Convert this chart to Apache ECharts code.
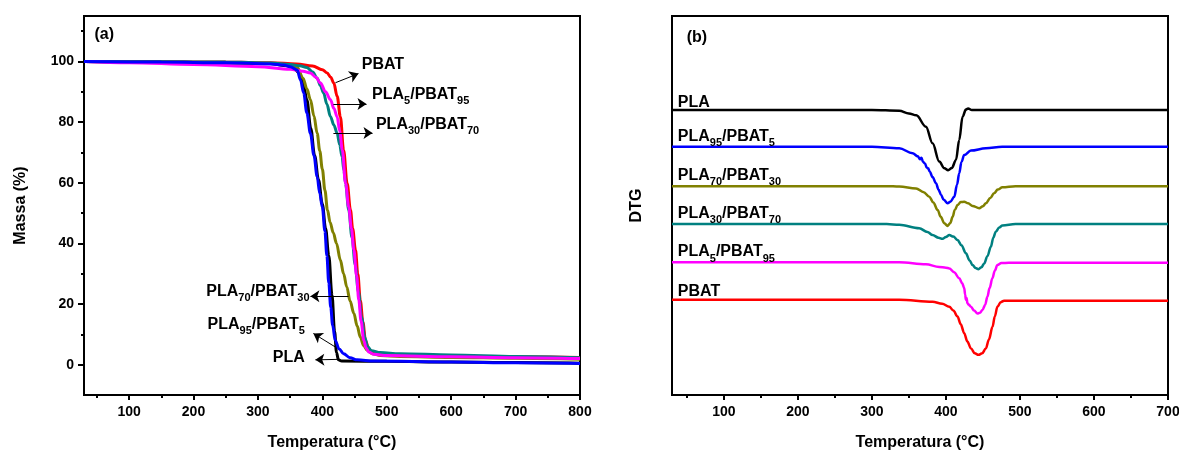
<!DOCTYPE html>
<html>
<head>
<meta charset="utf-8">
<script src="https://cdn.jsdelivr.net/npm/echarts@6/dist/echarts.min.js"></script>
<style>
  body { margin: 0; background: #fff; }
  #chart { width: 1179px; height: 450px; }
</style>
</head>
<body>
<div id="chart"></div>
<script>
// ---- data ----
// (a) TGA: [temperature °C, mass %]
var tgaPLA = [[30,100],[150,99.8],[250,99.6],[320,99.3],[345,98.6],[355,97.8],[363,96.5],[370,93],[376,87.4],[382,78],[388,69],[394,61],[400,53],[405,45],[410,36],[415,23],[419,11],[422,4],[425,1.6],[430,1.2],[500,1.1],[600,0.9],[700,0.7],[800,0.5]];
var tgaPLA95 = [[30,100],[150,99.8],[250,99.6],[320,99.2],[340,98.8],[350,98.3],[361,97.2],[366,94],[371,89.6],[376,83],[381.5,76.3],[387,69],[392,62],[396,56.5],[400,52],[404,44],[407,36],[410,27],[413,19],[416,13],[420,8],[426,5.2],[433,3.6],[443,2.3],[454,1.6],[480,1.2],[600,0.9],[700,0.6],[800,0.4]];
var tgaPLA70 = [[30,100],[150,99.8],[250,99.6],[320,99.3],[345,98.8],[361,98.0],[370,94.5],[376,91],[381.5,87.4],[387,82],[392,76.3],[396,70.5],[400,64.5],[404,57.5],[408,51],[412,47],[417,43.5],[422,40],[428,34.5],[433,30],[438,25.6],[443,21],[449,16.9],[454,12.8],[459,9.1],[464,6.3],[470,4.7],[478,3.6],[490,3.0],[520,2.7],[600,2.4],[700,2.1],[800,1.8]];
var tgaPLA30 = [[30,100],[150,99.9],[250,99.8],[320,99.5],[350,99.0],[365,98.6],[376,98.0],[385,96.5],[392,94.5],[397,92],[402,89.6],[407,86],[412.6,81.8],[418,79],[423,76.3],[427,72.5],[430.6,68.6],[433.5,64],[436,59.8],[441,51],[446,42],[451,33],[456,24],[461,15.5],[466,9],[470,6],[476,4.6],[490,4.0],[520,3.6],[600,3.2],[700,2.7],[800,2.3]];
var tgaPLA5 = [[30,100],[100,99.6],[200,99.0],[300,98.3],[350,97.4],[370,96.8],[381.5,96.2],[390,94.8],[397,92.9],[405,90],[412.6,87.4],[418,84.5],[423,81.8],[427,77],[431,70.8],[436,59.8],[441,52],[445,45],[449,37.8],[453,29.5],[456.7,21.2],[460,14.5],[464.4,8],[468,5.5],[472,4.2],[480,3.4],[500,3.0],[600,2.6],[700,2.3],[800,2.0]];
var tgaPBAT = [[30,100],[150,99.9],[250,99.8],[320,99.6],[360,99.2],[385,98.5],[400,97.3],[407.5,96.2],[413,94.8],[417.8,92.9],[423,88.5],[428,81.8],[433,70.8],[438.5,59.8],[443.7,51],[447,45],[451.5,37.8],[455,30],[459,21.2],[463,14],[467,8],[472,5.2],[479,3.9],[490,3.3],[550,3.0],[650,2.7],[800,2.4]];

// (b) DTG (offset, arbitrary units): [temperature °C, value]
var dtgPLA = [[30,75.2],[300,75.2],[337,75.0],[350,74.3],[360,73.8],[373,70.8],[382,66.4],[391,61.6],[398,59.8],[403,59.3],[408,59.9],[413.6,62.0],[418,67.3],[422.5,73.4],[427,75.3],[430,75.6],[435,75.2],[700,75.2]];
var dtgPLA95 = [[30,65.5],[300,65.5],[337,65.1],[355,63.8],[362,63.0],[365,62.2],[367,62.6],[369,61.5],[372,61.0],[374,60.0],[376,59.8],[378,59.0],[382,57.5],[386.6,55.9],[390,54.2],[393.4,52.8],[397,51.5],[402.3,50.6],[406,51],[411.3,52.3],[415,55.5],[418,58.5],[421,61.5],[424.7,63.3],[433.8,64.5],[454,65.1],[476,65.5],[700,65.5]];
var dtgPLA70 = [[30,55.1],[320,55.1],[337,55.0],[359.7,54.5],[370,53.5],[377.6,52.3],[383,50.8],[388.8,48.8],[393,47],[397.9,45.3],[402.3,44.6],[406,45.4],[409,47.0],[412,48.8],[415.7,50.1],[420,50.9],[424.7,51.0],[430,50.6],[436,49.9],[445,49.3],[450,49.8],[454,50.6],[460,52.0],[465,53.2],[470,54.2],[476.3,54.8],[494,55.1],[700,55.1]];
var dtgPLA30 = [[30,45.1],[320,45.1],[337,44.9],[364,44.0],[375,43.0],[382,42.2],[390,41.5],[395.5,41.2],[400,41.7],[404.6,42.2],[410,41.8],[415.7,40.9],[421,39.5],[427,37.4],[432,35.5],[436,34.3],[440,33.5],[444,33.2],[448,33.7],[451.7,34.7],[456,36.6],[460.7,39.1],[464,41.5],[467.4,43.1],[472,44.2],[476.3,44.7],[494,45.1],[700,45.1]];
var dtgPLA5 = [[30,35.0],[337,35.0],[373,34.5],[391,33.8],[400,33.6],[404.6,33.4],[411,32.4],[418,30.8],[422,29.5],[424.7,28.2],[426,26.5],[427,25.1],[428,25.6],[429,24.2],[431,23.8],[433.8,23.3],[438,22.3],[442.7,21.5],[446,21.7],[449.4,22.4],[453,23.8],[456,25.9],[459,28.2],[462.8,30.8],[466,32.8],[469.6,34.3],[475,34.8],[485,34.9],[700,34.9]];
var dtgPBAT = [[30,25.1],[337,25.1],[382,24.6],[395,24.1],[404.6,23.3],[410,22.3],[415.7,20.7],[420,18.7],[424.7,16.3],[429,14.1],[433.8,12.3],[439,11.0],[444,10.6],[449,11.0],[454,12.3],[458,14.6],[463,18.0],[466,20.7],[469.6,23.3],[474,24.5],[478.6,24.9],[700,24.9]];

// tick values
var ticksA = [100, 200, 300, 400, 500, 600, 700, 800];
var minorA = [50, 150, 250, 350, 450, 550, 650, 750];
var ticksB = [100, 200, 300, 400, 500, 600, 700];
var minorB = [50, 150, 250, 350, 450, 550, 650];
var massTicks = [0, 20, 40, 60, 80, 100];
var massMinor = [10, 30, 50, 70, 90, 110];

var FONT = '"Liberation Sans", Arial, Helvetica, sans-serif';
var rich = {
  b: { fontSize: 16, fontWeight: 'bold', fontFamily: FONT, color: '#000', lineHeight: 24, verticalAlign: 'middle' },
  s: { fontSize: 11, fontWeight: 'bold', fontFamily: FONT, color: '#000', lineHeight: 24, verticalAlign: 'bottom' }
};

function note(coord, text, align) {
  return {
    coord: coord,
    symbolSize: 1,
    itemStyle: { color: 'transparent' },
    label: { show: true, position: [0, 0], align: align || 'left', verticalAlign: 'middle', formatter: text, rich: rich }
  };
}
function arrow(from, to) {
  return [{ coord: from }, { coord: to }];
}

function majorX(grid, min, max, ticks) {
  return {
    type: 'value', gridIndex: grid, min: min, max: max, position: 'bottom',
    axisLine: { show: true, onZero: false, lineStyle: { color: '#000', width: 2 } },
    axisTick: { show: true, customValues: ticks, length: 5, lineStyle: { color: '#000', width: 2 } },
    axisLabel: { customValues: ticks, color: '#000', fontSize: 14, fontWeight: 'bold', fontFamily: FONT, margin: 10 },
    splitLine: { show: false },
    name: 'Temperatura (°C)', nameLocation: 'middle', nameGap: 40,
    nameTextStyle: { color: '#000', fontSize: 16, fontWeight: 'bold', fontFamily: FONT }
  };
}
function minorX(grid, min, max, ticks) {
  return {
    type: 'value', gridIndex: grid, min: min, max: max, position: 'bottom',
    axisLine: { show: false, onZero: false },
    axisTick: { show: true, customValues: ticks, length: 3, lineStyle: { color: '#000', width: 2 } },
    axisLabel: { show: false },
    splitLine: { show: false }
  };
}

function line(name, data, color, xi, yi, width) {
  return {
    name: name, type: 'line', data: data, xAxisIndex: xi, yAxisIndex: yi,
    showSymbol: false, smooth: 0.35, smoothMonotone: 'x',
    lineStyle: { color: color, width: width },
    itemStyle: { color: color }
  };
}

var chart = echarts.init(document.getElementById('chart'));

var notesA = {
  symbol: 'circle',
  data: [
    note([47, 108.8], '{b|(a)}'),
    note([462, 98.7], '{b|PBAT}'),
    note([478, 89.0], '{b|PLA}{s|5}{b|/PBAT}{s|95}'),
    note([484, 79.0], '{b|PLA}{s|30}{b|/PBAT}{s|70}'),
    note([381, 24.0], '{b|PLA}{s|70}{b|/PBAT}{s|30}', 'right'),
    note([373.5, 13.0], '{b|PLA}{s|95}{b|/PBAT}{s|5}', 'right'),
    note([373.5, 2.1], '{b|PLA}', 'right')
  ]
};
var arrowsA = {
  silent: true, symbol: ['none', 'arrow'], symbolSize: 9,
  lineStyle: { color: '#000', width: 1, type: 'solid' },
  label: { show: false },
  data: [
    arrow([420.4, 93.0], [456.1, 96.0]),
    arrow([417.2, 86.0], [468.6, 86.0]),
    arrow([417.2, 76.4], [477.9, 76.4]),
    arrow([440.6, 22.6], [381.5, 22.6]),
    arrow([420.4, 5.8], [386.1, 10.3]),
    arrow([425, 1.75], [389.2, 1.6])
  ]
};
var notesB = {
  symbol: 'circle',
  data: [
    note([50.6, 94.1], '{b|(b)}'),
    note([38.5, 77.0], '{b|PLA}'),
    note([38.5, 68.0], '{b|PLA}{s|95}{b|/PBAT}{s|5}'),
    note([38.5, 57.8], '{b|PLA}{s|70}{b|/PBAT}{s|30}'),
    note([38.5, 47.8], '{b|PLA}{s|30}{b|/PBAT}{s|70}'),
    note([38.5, 37.6], '{b|PLA}{s|5}{b|/PBAT}{s|95}'),
    note([38.5, 27.2], '{b|PBAT}')
  ]
};

var sA = [
  line('PLA', tgaPLA, '#000000', 0, 0, 3),
  line('PLA70/PBAT30', tgaPLA70, '#808000', 0, 0, 3),
  line('PBAT', tgaPBAT, '#ff0000', 0, 0, 3),
  line('PLA30/PBAT70', tgaPLA30, '#008080', 0, 0, 3),
  line('PLA5/PBAT95', tgaPLA5, '#ff00ff', 0, 0, 3),
  line('PLA95/PBAT5', tgaPLA95, '#0000ff', 0, 0, 3)
];
sA[5].markPoint = notesA;
sA[5].markLine = arrowsA;

var sB = [
  line('PLA', dtgPLA, '#000000', 2, 2, 2.5),
  line('PLA95/PBAT5', dtgPLA95, '#0000ff', 2, 2, 2.5),
  line('PLA70/PBAT30', dtgPLA70, '#808000', 2, 2, 2.5),
  line('PLA30/PBAT70', dtgPLA30, '#008080', 2, 2, 2.5),
  line('PLA5/PBAT95', dtgPLA5, '#ff00ff', 2, 2, 2.5),
  line('PBAT', dtgPBAT, '#ff0000', 2, 2, 2.5)
];
sB[5].markPoint = notesB;

var option = {
  animation: false,
  backgroundColor: '#fff',
  grid: [
    { left: 84, top: 16, width: 496, height: 379, show: true, borderColor: '#000', borderWidth: 2, outerBoundsMode: 'none' },
    { left: 672, top: 16, width: 496, height: 379, show: true, borderColor: '#000', borderWidth: 2, outerBoundsMode: 'none' }
  ],
  xAxis: [
    majorX(0, 30, 800, ticksA),
    minorX(0, 30, 800, minorA),
    majorX(1, 30, 700, ticksB),
    minorX(1, 30, 700, minorB)
  ],
  yAxis: [
    {
      type: 'value', gridIndex: 0, min: -10, max: 115, position: 'left',
      axisLine: { show: true, lineStyle: { color: '#000', width: 2 } },
      axisTick: { show: true, customValues: massTicks, length: 6, lineStyle: { color: '#000', width: 2 } },
      axisLabel: { customValues: massTicks, color: '#000', fontSize: 14, fontWeight: 'bold', fontFamily: FONT, margin: 10 },
      splitLine: { show: false },
      name: 'Massa (%)', nameLocation: 'middle', nameGap: 55,
      nameTextStyle: { color: '#000', fontSize: 16, fontWeight: 'bold', fontFamily: FONT }
    },
    {
      type: 'value', gridIndex: 0, min: -10, max: 115, position: 'left',
      axisLine: { show: false },
      axisTick: { show: true, customValues: massMinor, length: 3, lineStyle: { color: '#000', width: 2 } },
      axisLabel: { show: false },
      splitLine: { show: false }
    },
    {
      type: 'value', gridIndex: 1, min: 0, max: 100, position: 'left',
      axisLine: { show: true, lineStyle: { color: '#000', width: 2 } },
      axisTick: { show: false },
      axisLabel: { show: false },
      splitLine: { show: false },
      name: 'DTG', nameLocation: 'middle', nameGap: 27,
      nameTextStyle: { color: '#000', fontSize: 16, fontWeight: 'bold', fontFamily: FONT }
    }
  ],
  series: sA.concat(sB)
};

chart.setOption(option);
</script>
</body>
</html>
